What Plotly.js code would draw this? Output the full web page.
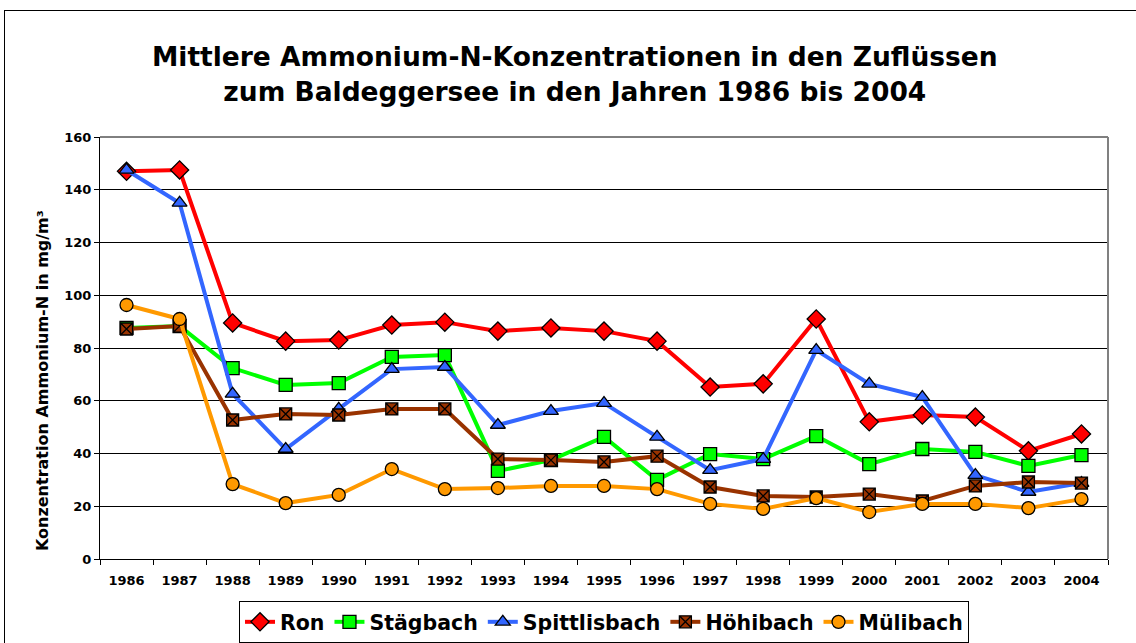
<!DOCTYPE html>
<html>
<head>
<meta charset="utf-8">
<script src="https://cdn.plot.ly/plotly-3.0.1.min.js"></script>
<style>
html,body{margin:0;padding:0;background:#fff;}
#chart{width:1136px;height:643px;position:relative;}
#frame{position:absolute;left:4px;top:10px;width:1200px;height:700px;border:1px solid #000;pointer-events:none;}
</style>
</head>
<body>
<div id="chart"></div>
<div id="frame"></div>
<script>
const years = ['1986','1987','1988','1989','1990','1991','1992','1993','1994','1995','1996','1997','1998','1999','2000','2001','2002','2003','2004'];
const ron = [147,147.5,89.5,82.6,83,88.7,89.8,86.4,87.6,86.4,82.6,65.2,66.4,91,52,54.6,53.8,41,47.4];
const staegbach = [87.6,88.3,72.4,66,66.7,76.6,77.3,33.4,37.5,46.3,30,39.8,37.9,46.6,36,41.7,40.6,35.3,39.4];
const spittlisbach = [147.5,135,62.6,41.7,56.9,72,72.8,50.8,56.1,59.1,46.3,33.7,37.9,79.2,66.4,61.4,31.8,25.4,28.8];
const hoehibach = [87.2,88.3,52.7,55,54.6,56.9,56.9,37.9,37.5,36.8,39,27.3,23.9,23.5,24.6,22,27.7,29.2,28.8];
const muelibach = [96.3,91,28.4,21.2,24.3,34.1,26.5,26.9,27.7,27.7,26.5,20.9,19,23.1,17.8,20.9,20.9,19.3,22.7];

const seriesNames = ['Ron','Stägbach','Spittlisbach','Höhibach','Mülibach'];
const seriesData = [ron, staegbach, spittlisbach, hoehibach, muelibach];
const colors = ['#FF0000','#00FF00','#3366FF','#993300','#FF9900'];
const symbols = ['diamond','square','triangle-up','square-x','circle'];
const sizes = [14,13,13,12,13];
const yTitle = 'Konzentration Ammonium-N in mg/m³';

const traces = seriesNames.map((n,i)=>({
  type:'scatter', mode:'lines+markers', name:n, x:years, y:seriesData[i],
  line:{color:colors[i], width:4},
  marker:{symbol:symbols[i], size:sizes[i], color:colors[i], line:{color:'#000', width:1.3}}
}));

const font = 'DejaVu Sans, Verdana, sans-serif';
const layout = {
  width:1136, height:643,
  margin:{l:100, r:28, t:137, b:84},
  paper_bgcolor:'#fff', plot_bgcolor:'#fff',
  font:{family:font, color:'#000'},
  title:{text:'Mittlere Ammonium-N-Konzentrationen in den Zuflüssen<br>zum Baldeggersee in den Jahren 1986 bis 2004',
    font:{family:font, size:26.5, weight:'bold', color:'#000'}, x:0.506, xanchor:'center', y:0.897, yanchor:'middle', yref:'container'},
  xaxis:{type:'category', range:[-0.5,18.5], autorange:false, showgrid:false, showline:true, linecolor:'#000', linewidth:1, mirror:false,
    ticks:'outside', ticklen:5, tickcolor:'#000', tickson:'boundaries', ticklabelstandoff:9,
    tickfont:{family:font, size:13, weight:'bold', color:'#000'}, fixedrange:true},
  yaxis:{range:[0,160], dtick:20, showgrid:true, gridcolor:'#000', gridwidth:1, zeroline:false,
    showline:true, linecolor:'#000', linewidth:1, ticks:'outside', ticklen:5, tickcolor:'#000',
    tickfont:{family:font, size:13, weight:'bold', color:'#000'}},
  annotations:[
    {text:yTitle, xref:'paper', yref:'paper', x:-0.0575, y:0.4218, xanchor:'center', yanchor:'middle',
     textangle:-90, showarrow:false, font:{family:font, size:16, weight:'bold', color:'#000'}}
  ],
  shapes:[
    {type:'line', xref:'paper', yref:'paper', x0:0, x1:1, y0:1, y1:1, line:{color:'#000', width:1}},
    {type:'line', xref:'paper', yref:'paper', x0:1, x1:1, y0:0, y1:1, line:{color:'#808080', width:2}}
  ],
  legend:{orientation:'h', x:0.5, xanchor:'center', xref:'paper', y:0.0, yref:'container', yanchor:'bottom',
    bordercolor:'#000', borderwidth:1, bgcolor:'#fff',
    font:{family:font, size:20.5, weight:'bold', color:'#000'}, itemwidth:30, tracegroupgap:0},
  showlegend:true
};
Plotly.newPlot('chart', traces, layout, {displayModeBar:false, staticPlot:true});
</script>
</body>
</html>
